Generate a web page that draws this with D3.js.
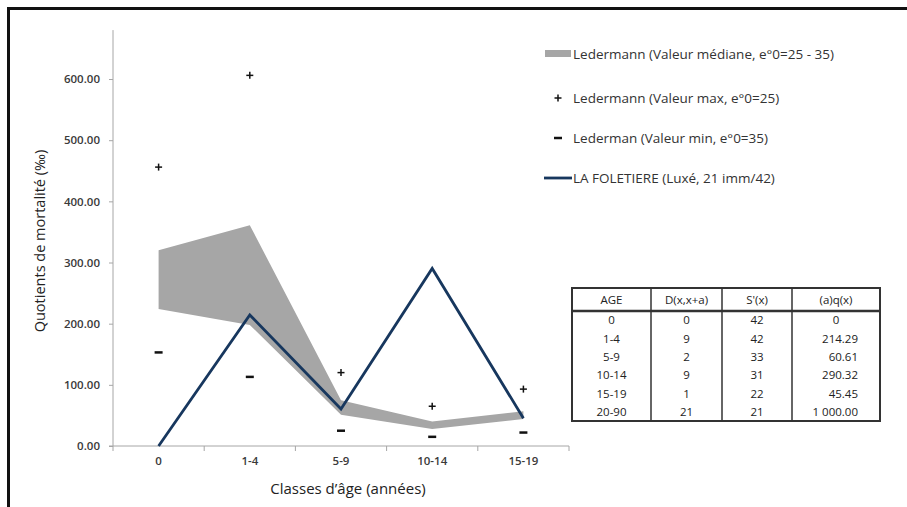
<!DOCTYPE html>
<html><head><meta charset="utf-8">
<script src="https://cdn.jsdelivr.net/npm/d3@7"></script>
<style>body{margin:0;background:#fff}svg{display:block}text{font-family:"Open Sans",sans-serif}</style>
</head><body><svg id="c" width="907" height="507"></svg>
<script>
const categories = ["0","1-4","5-9","10-14","15-19"];
const foletiere = [0, 214.29, 60.61, 290.32, 45.45];
const medianUpper = [320, 361, 75, 40, 57];
const medianLower = [224, 198, 51, 28, 44];
const maxValues = [456, 606, 120, 65, 93];
const minValues = [153, 113, 25, 15, 22];
const yTicks = [0, 100, 200, 300, 400, 500, 600];
const legendLabels = ["Ledermann (Valeur médiane, e°0=25 - 35)","Ledermann (Valeur max, e°0=25)","Lederman (Valeur min, e°0=35)","LA FOLETIERE (Luxé, 21 imm/42)"];
const tableHeader = ["AGE","D(x,x+a)","S'(x)","(a)q(x)"];
const tableAge = ["0","1-4","5-9","10-14","15-19","20-90"];
const tableD = ["0","9","2","9","1","21"];
const tableS = ["42","42","33","31","22","21"];
const tableQ = ["0","214.29","60.61","290.32","45.45","1 000.00"];

const svg = d3.select("#c");
const x = d3.scaleBand().domain(categories).range([113, 569]).padding(0);
const y = d3.scaleLinear().domain([0, 680]).range([446, 30.1]);
const cx = c => x(c) + x.bandwidth()/2;

// frame
svg.append("line").attr("x1",8).attr("x2",907).attr("y1",8.5).attr("y2",8.5).attr("stroke","#111").attr("stroke-width",3);
svg.append("line").attr("x1",8.5).attr("x2",8.5).attr("y1",7).attr("y2",507).attr("stroke","#111").attr("stroke-width",3);

// area
const area = d3.area().x((d,i)=>cx(categories[i])).y0((d,i)=>y(medianLower[i])).y1((d,i)=>y(medianUpper[i]));
svg.append("path").datum(categories).attr("d",area).attr("fill","#a6a6a6");

// axes
const axisColor = "#a6a6a6";
svg.append("line").attr("x1",113).attr("x2",113).attr("y1",y.range()[1]).attr("y2",446).attr("stroke",axisColor);
svg.append("line").attr("x1",109).attr("x2",569).attr("y1",446).attr("y2",446).attr("stroke",axisColor);
const yAx = svg.append("g").attr("transform","translate(113,0)").call(d3.axisLeft(y).tickValues(yTicks).tickFormat(d3.format(".2f")).tickSize(4).tickPadding(9));
yAx.select(".domain").remove();
yAx.selectAll("line").attr("stroke",axisColor);
yAx.selectAll("text").attr("font-size",11.5).attr("font-weight",600).attr("fill","#3a3a3a").style("font-family","'Open Sans',sans-serif");
// x ticks at band boundaries
const bounds = categories.map(c=>x(c)).concat([x.range()[1]]);
svg.selectAll(".xt").data(bounds).enter().append("line").attr("x1",d=>d).attr("x2",d=>d).attr("y1",446).attr("y2",451).attr("stroke",axisColor);
const xAx = svg.append("g").attr("transform","translate(0,446)").call(d3.axisBottom(x).tickSize(0).tickPadding(11));
xAx.select(".domain").remove();
xAx.selectAll("text").attr("font-size",11.5).attr("font-weight",600).attr("fill","#3a3a3a").style("font-family","'Open Sans',sans-serif");

// titles
svg.append("text").attr("transform","translate(45,241) rotate(-90)").attr("text-anchor","middle").attr("font-size",14.5).attr("fill","#222").text("Quotients de mortalité (‰)");
svg.append("text").attr("x",348).attr("y",494).attr("text-anchor","middle").attr("font-size",15).attr("fill","#222").text("Classes d’âge (années)");

// line
const line = d3.line().x((d,i)=>cx(categories[i])).y(d=>y(d));
svg.append("path").datum(foletiere).attr("d",line).attr("fill","none").attr("stroke","#17375e").attr("stroke-width",2.8);

// markers
const plus = (g, px, py) => {
  g.append("line").attr("x1",px-3.5).attr("x2",px+3.5).attr("y1",py).attr("y2",py).attr("stroke","#111").attr("stroke-width",1.5);
  g.append("line").attr("x1",px).attr("x2",px).attr("y1",py-3.5).attr("y2",py+3.5).attr("stroke","#111").attr("stroke-width",1.5);
};
const minus = (g, px, py) => {
  g.append("line").attr("x1",px-4).attr("x2",px+4).attr("y1",py).attr("y2",py).attr("stroke","#111").attr("stroke-width",2.5);
};
const mk = svg.append("g");
maxValues.forEach((v,i)=>plus(mk, cx(categories[i]), y(v)));
minValues.forEach((v,i)=>minus(mk, cx(categories[i]), y(v)));

// legend
const lg = svg.append("g");
const lyy = [54, 98, 138, 178];
lg.append("rect").attr("x",545).attr("y",50).attr("width",26).attr("height",7).attr("fill","#a6a6a6");
plus(lg, 558, lyy[1]);
minus(lg, 558, lyy[2]);
lg.append("line").attr("x1",544).attr("x2",572).attr("y1",lyy[3]).attr("y2",lyy[3]).attr("stroke","#17375e").attr("stroke-width",2.8);
lg.selectAll("text.l").data(legendLabels).enter().append("text").attr("x",573).attr("y",(d,i)=>lyy[i]).attr("dy","0.35em").attr("font-size",13.5).attr("fill","#333").text(d=>d);

// table
const tb = svg.append("g");
const colB = [572, 651, 722, 792, 880];
const tTop = 288, headB = 311, tBottom = 421;
const rowH = (tBottom - headB)/tableAge.length;
tb.append("rect").attr("x",colB[0]).attr("y",tTop).attr("width",colB[4]-colB[0]).attr("height",tBottom-tTop).attr("fill","none").attr("stroke","#333").attr("stroke-width",2);
tb.append("line").attr("x1",colB[0]).attr("x2",colB[4]).attr("y1",headB).attr("y2",headB).attr("stroke","#333").attr("stroke-width",2.5);
colB.slice(1,4).forEach(b=>tb.append("line").attr("x1",b).attr("x2",b).attr("y1",tTop).attr("y2",tBottom).attr("stroke","#333").attr("stroke-width",1.5));
const cols = [tableAge, tableD, tableS, tableQ];
tableHeader.forEach((h,j)=>tb.append("text").attr("x",(colB[j]+colB[j+1])/2).attr("y",(tTop+headB)/2).attr("dy","0.35em").attr("text-anchor","middle").attr("font-size",11.5).attr("fill","#222").text(h));
cols.forEach((col,j)=>{
  col.forEach((v,i)=>{
    const yy = headB + rowH*(i+0.5);
    const right = j===3 && v!=="0";
    tb.append("text").attr("x", right ? colB[4]-22 : (colB[j]+colB[j+1])/2).attr("y",yy).attr("dy","0.35em")
      .attr("text-anchor", right ? "end" : "middle").attr("font-size",11.5).attr("fill","#222").text(v);
  });
});
</script></body></html>
